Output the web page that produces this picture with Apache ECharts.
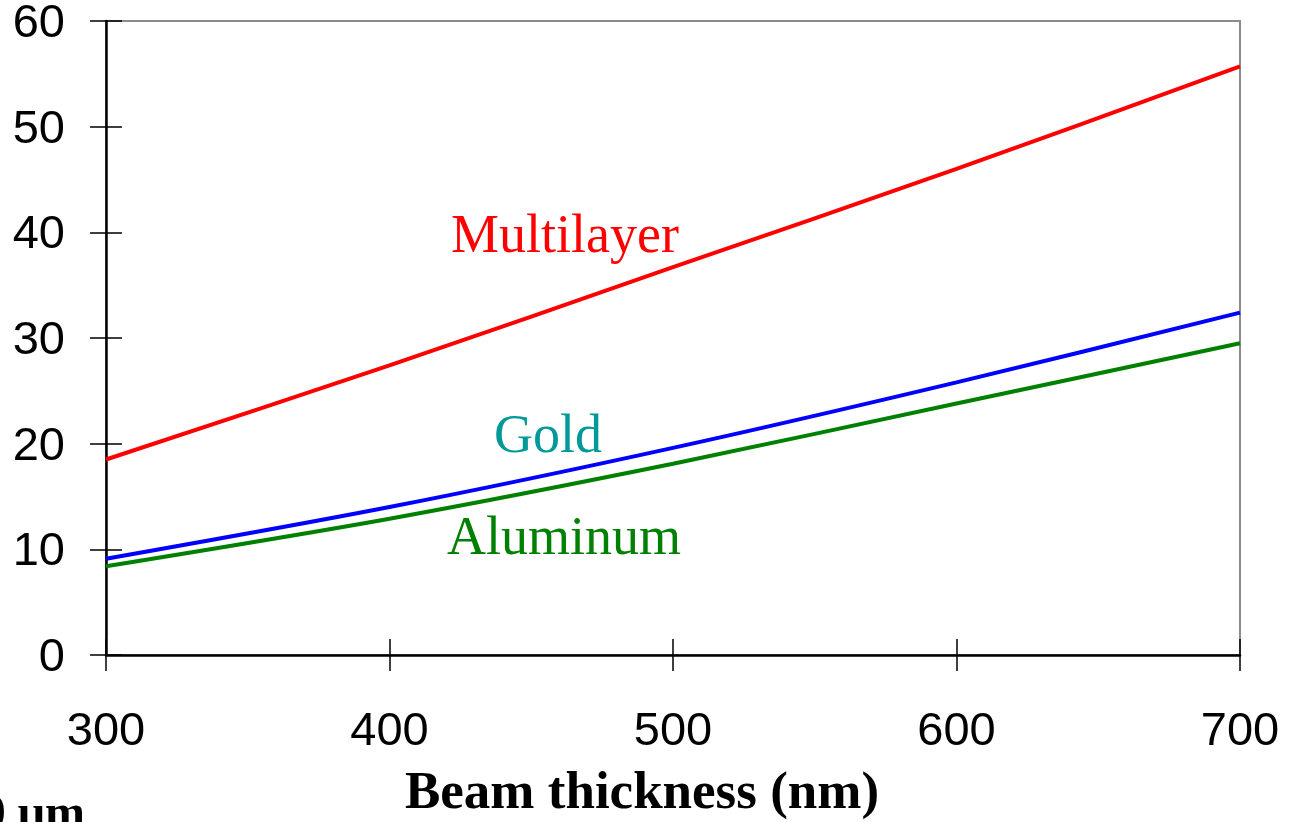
<!DOCTYPE html>
<html>
<head>
<meta charset="utf-8">
<script src="https://cdn.jsdelivr.net/npm/echarts@6/dist/echarts.min.js"></script>
<style>
html,body{margin:0;padding:0;background:#fff;}
#chart{width:1296px;height:822px;}
</style>
</head>
<body>
<div id="chart"></div>
<script>
// Data
const thickness = [300, 400, 500, 600, 700];
const multilayer = [18.5, 27.4, 36.7, 46.0, 55.7];
const gold = [9.1, 14.0, 19.6, 25.8, 32.4];
const aluminum = [8.4, 12.9, 18.1, 23.8, 29.5];
const xTicks = [300, 400, 500, 600, 700];
const yTicks = [0, 10, 20, 30, 40, 50, 60];

const pairs = (xs, ys) => xs.map((x, i) => [x, ys[i]]);

const chart = echarts.init(document.getElementById('chart'), null, {renderer: 'canvas'});

const sansLabel = {color: '#000', fontFamily: 'Liberation Sans, Arial, sans-serif', fontSize: 47};
const serif = '"Liberation Serif", "Times New Roman", serif';

const option = {
  animation: false,
  backgroundColor: '#fff',
  grid: {
    left: 106, right: 56, top: 21, bottom: 167,
    show: true, borderColor: '#8c8c8c', borderWidth: 2, backgroundColor: 'transparent'
  },
  xAxis: [
    {
      type: 'value', min: xTicks[0], max: xTicks[xTicks.length - 1], interval: 100,
      position: 'bottom',
      axisLine: {show: true, onZero: false, lineStyle: {color: '#000', width: 2.5}},
      axisTick: {show: true, inside: false, length: 16, lineStyle: {color: '#000', width: 1.5}},
      splitLine: {show: false},
      axisLabel: Object.assign({margin: 54}, sansLabel)
    },
    {
      type: 'value', min: xTicks[0], max: xTicks[xTicks.length - 1], interval: 100,
      position: 'bottom',
      axisLine: {show: false},
      axisTick: {show: true, inside: true, length: 16, lineStyle: {color: '#000', width: 1.5}},
      splitLine: {show: false},
      axisLabel: {show: false}
    }
  ],
  yAxis: [
    {
      type: 'value', min: yTicks[0], max: yTicks[yTicks.length - 1], interval: 10,
      position: 'left',
      axisLine: {show: true, onZero: false, lineStyle: {color: '#000', width: 2.5}},
      axisTick: {show: true, inside: false, length: 16, lineStyle: {color: '#000', width: 1.5}},
      splitLine: {show: false},
      axisLabel: {
        margin: 41,
        formatter: '{v|{value}}',
        rich: {v: Object.assign({padding: [6, 0, 0, 0]}, sansLabel)}
      }
    },
    {
      type: 'value', min: yTicks[0], max: yTicks[yTicks.length - 1], interval: 10,
      position: 'left',
      axisLine: {show: false},
      axisTick: {show: true, inside: true, length: 16, lineStyle: {color: '#000', width: 1.5}},
      splitLine: {show: false},
      axisLabel: {show: false}
    }
  ],
  series: [
    {
      name: 'Multilayer', type: 'line', xAxisIndex: 0, yAxisIndex: 0,
      data: pairs(thickness, multilayer), smooth: 0.3, showSymbol: false,
      lineStyle: {color: '#ff0000', width: 4}
    },
    {
      name: 'Gold', type: 'line', xAxisIndex: 0, yAxisIndex: 0,
      data: pairs(thickness, gold), smooth: 0.3, showSymbol: false,
      lineStyle: {color: '#0000ff', width: 4}
    },
    {
      name: 'Aluminum', type: 'line', xAxisIndex: 0, yAxisIndex: 0,
      data: pairs(thickness, aluminum), smooth: 0.3, showSymbol: false,
      lineStyle: {color: '#008000', width: 4}
    }
  ],
  graphic: [
    {type: 'text', left: 451, top: 211, style: {text: 'Multilayer', fill: '#ff0000', font: '54px ' + serif}},
    {type: 'text', left: 494, top: 411, style: {text: 'Gold', fill: '#009999', font: '54px ' + serif}},
    {type: 'text', left: 447, top: 513, style: {text: 'Aluminum', fill: '#008000', font: '54px ' + serif}},
    {type: 'text', left: 405, top: 768, style: {text: 'Beam thickness (nm)', fill: '#000', font: 'bold 53px ' + serif}},
    {type: 'text', right: 1211, top: 792, style: {text: '10 μm', fill: '#000', font: 'bold 48px ' + serif}}
  ]
};
chart.setOption(option);
</script>
</body>
</html>
